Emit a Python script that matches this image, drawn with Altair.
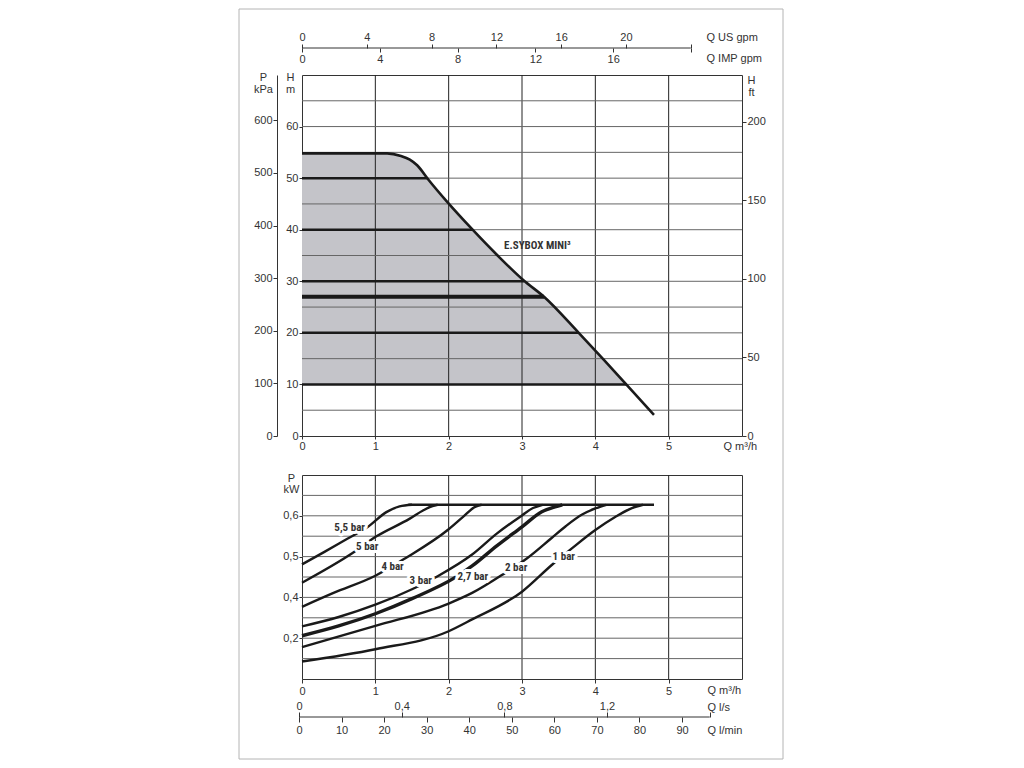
import altair as alt
import pandas as pd

# ---------------- data: top chart (head vs flow) ----------------
env_q = [0.0, 0.6, 1.16, 1.35, 1.47, 1.57, 1.73, 1.98, 2.32, 2.66, 3.02, 3.30, 3.78, 4.12, 4.44, 4.80]
env_h = [54.8, 54.8, 54.8, 54.3, 53.6, 52.5, 49.6, 45.4, 40.1, 35.1, 30.2, 27.0, 19.9, 14.7, 9.7, 4.1]
shade_end_q = 4.43
shade_base_h = 10
press_h = [10, 20, 27, 30, 40, 50]
press_q_end = [4.43, 3.77, 3.30, 3.03, 2.32, 1.72]
top_grid_q = [1, 2, 3, 4, 5]
top_grid_h = [5, 10, 15, 20, 25, 30, 35, 40, 45, 50, 55, 60, 65]
top_label = ["E.SYBOX MINI³"]
top_label_q = [3.21]
top_label_h = [36.8]

q_ticks = [0, 1, 2, 3, 4, 5]
m_ticks = [0, 10, 20, 30, 40, 50, 60]
kpa_ticks = [0, 100, 200, 300, 400, 500, 600]
ft_ticks = [0, 50, 100, 150, 200]
us_ticks = [0, 4, 8, 12, 16, 20, 24]
imp_ticks = [0, 4, 8, 12, 16, 20]
# unit relations as drawn on the sheet
kpa_per_m = 9.8
ft_per_m = 3.281
us_gpm_per_m3h = 4.527
imp_gpm_per_m3h = 3.77
gpm_scale_end = 24  # US gpm at end of the gpm scale line

# ---------------- data: bottom chart (power vs flow) ----------------
curves = {
    "5,5 bar": ([0, 0.3, 0.6, 0.9, 1.15, 1.33, 1.5],
                [0.481, 0.511, 0.542, 0.573, 0.609, 0.623, 0.627]),
    "5 bar": ([0, 0.7, 1.01, 1.47, 1.65, 1.78, 1.85],
              [0.436, 0.51, 0.549, 0.593, 0.613, 0.624, 0.627]),
    "4 bar": ([0, 0.43, 1.0, 1.41, 2.0, 2.2, 2.36, 2.45],
              [0.377, 0.411, 0.453, 0.496, 0.567, 0.598, 0.622, 0.627]),
    "3 bar": ([0, 0.5, 1.0, 1.5, 1.85, 2.32, 2.66, 3.0, 3.15, 3.28],
              [0.329, 0.352, 0.382, 0.42, 0.452, 0.505, 0.557, 0.601, 0.619, 0.627]),
    "2,7 bar": ([0, 0.5, 1.0, 1.5, 2.09, 2.32, 2.66, 3.0, 3.27, 3.45, 3.55],
                [0.306, 0.33, 0.36, 0.397, 0.449, 0.477, 0.527, 0.573, 0.61, 0.622, 0.627]),
    "2 bar": ([0, 1.0, 2.0, 2.32, 2.77, 3.07, 3.4, 3.6, 3.82, 4.0, 4.15],
              [0.278, 0.33, 0.385, 0.411, 0.46, 0.496, 0.545, 0.575, 0.603, 0.618, 0.627]),
    "1 bar": ([0, 1.0, 2.0, 2.32, 3.0, 3.41, 3.68, 4.0, 4.27, 4.5, 4.65],
              [0.243, 0.273, 0.317, 0.346, 0.414, 0.48, 0.52, 0.565, 0.597, 0.619, 0.627]),
}
plateau_q = [1.45, 4.80]
plateau_kw = [0.627, 0.627]
curve_labels = ["5,5 bar", "5 bar", "4 bar", "3 bar", "2,7 bar", "2 bar", "1 bar"]
curve_label_q = [0.65, 0.89, 1.235, 1.62, 2.33, 2.92, 3.57]
curve_label_kw = [0.571, 0.523, 0.475, 0.439, 0.45, 0.472, 0.50]
bot_grid_q = [1, 2, 3, 4, 5]
bot_grid_kw = [0.25, 0.3, 0.35, 0.4, 0.45, 0.5, 0.55, 0.6, 0.65]
kw_ticks = [0.3, 0.4, 0.5, 0.6]
kw_text = ["0,2", "0,4", "0,5", "0,6"]
ls_ticks = [0, 0.4, 0.8, 1.2, 1.6]
lmin_ticks = [0, 10, 20, 30, 40, 50, 60, 70, 80, 90]
ls_per_m3h = 0.2857
lmin_per_m3h = 17.23
ls_scale_end = 1.6
ls_scale_start_q = -0.04  # the l/s - l/min scale starts slightly left of the plot edge

# ---------------- helpers ----------------
W = 440
H_TOP = 361
H_BOT = 204
INK = "#1a1a1a"
TXT = "#333333"
LBL_FONT = "Roboto Condensed, DejaVu Sans Condensed, Liberation Sans Narrow, Arial Narrow, Liberation Sans"

ax_common = dict(labelFlush=False, labelOverlap=False, grid=False)


def TX(f, axis=None):
    return alt.X(f, type="quantitative", scale=alt.Scale(domain=[0, 6], nice=False, zero=False),
                 axis=axis)


def TY(f, axis=None):
    return alt.Y(f, type="quantitative", scale=alt.Scale(domain=[0, 70], nice=False),
                 axis=axis)


top_xa = alt.Axis(orient="bottom", values=q_ticks, domain=False, tickSize=3, labelPadding=1,
                  title="Q m³/h", titleX=421, titleY=10, titleAlign="left",
                  titleBaseline="middle", **ax_common)
top_ya = alt.Axis(orient="left", values=m_ticks, domain=False, tickSize=3, labelPadding=1,
                  title=["H", "m"], titleAngle=0, titleX=-12, titleY=2, titleAlign="center",
                  titleBaseline="middle", titleLineHeight=12, **ax_common)
kpa_axis = alt.Axis(orient="left", offset=25, values=[p / kpa_per_m for p in kpa_ticks],
                    labelExpr=f"format(datum.value * {kpa_per_m}, '.0f')",
                    domain=True, tickSize=4, labelPadding=1, title=["P", "kPa"], titleAngle=0,
                    titleX=-14, titleY=2, titleAlign="center", titleBaseline="middle",
                    titleLineHeight=12, **ax_common)
ft_axis = alt.Axis(orient="right", values=[f / ft_per_m for f in ft_ticks],
                   labelExpr=f"format(datum.value * {ft_per_m}, '.0f')",
                   domain=False, tickSize=4, labelPadding=1, title=["H", "ft"], titleAngle=0,
                   titleX=9, titleY=5, titleAlign="center", titleBaseline="middle",
                   titleLineHeight=12, **ax_common)
us_axis = alt.Axis(orient="top", offset=27, values=[g / us_gpm_per_m3h for g in us_ticks],
                   labelExpr=(f"datum.value * {us_gpm_per_m3h} > {gpm_scale_end - 1} ? '' : "
                              f"format(datum.value * {us_gpm_per_m3h}, '.0f')"),
                   domain=False, tickSize=4, labelPadding=2, title="Q US gpm", titleX=404,
                   titleY=-11, titleAlign="left", titleBaseline="middle", **ax_common)
imp_axis = alt.Axis(orient="bottom", offset=-388, values=[g / imp_gpm_per_m3h for g in imp_ticks],
                    labelExpr=(f"datum.value * {imp_gpm_per_m3h} > 19 ? '' : "
                               f"format(datum.value * {imp_gpm_per_m3h}, '.0f')"),
                    domain=False, tickSize=4, labelPadding=1, title="Q IMP gpm", titleX=404,
                    titleY=10, titleAlign="left", titleBaseline="middle", **ax_common)

env_df = pd.DataFrame({"q": env_q, "h": env_h})
area_rows = [(q, h) for q, h in zip(env_q, env_h) if h >= shade_base_h] + [(shade_end_q, shade_base_h)]
area_df = pd.DataFrame({"q": [r[0] for r in area_rows], "h": [r[1] for r in area_rows],
                        "b": [shade_base_h] * len(area_rows)})
press_df = pd.DataFrame({"q0": [0] * len(press_h), "q1": press_q_end, "h": press_h})

area = alt.Chart(area_df).mark_area(color="#c4c4c9", interpolate="monotone").encode(
    x=TX("q", top_xa), y=TY("h", top_ya), y2="b")
vgrid = alt.Chart(pd.DataFrame({"q": top_grid_q})).mark_rule(color="#222", strokeWidth=1).encode(
    x=TX("q"))
hgrid = alt.Chart(pd.DataFrame({"h": top_grid_h})).mark_rule(color="#666", strokeWidth=1).encode(
    y=TY("h"))
press = alt.Chart(press_df).mark_rule(color=INK).encode(
    x=TX("q0", us_axis), x2="q1", y=TY("h", kpa_axis),
    strokeWidth=alt.condition("datum.h == 27", alt.value(3.8), alt.value(2.5)))
env_line = alt.Chart(env_df).mark_line(color=INK, strokeWidth=2.6, interpolate="monotone").encode(
    x=TX("q", imp_axis), y=TY("h", ft_axis))
tlabel = alt.Chart(pd.DataFrame({"q": top_label_q, "h": top_label_h, "t": top_label})).mark_text(
    font=LBL_FONT, fontWeight="bold", fontSize=11, color=TXT).encode(
    x=TX("q"), y=TY("h"), text="t")
gpm_line = alt.Chart(pd.DataFrame({"q0": [0], "q1": [gpm_scale_end / us_gpm_per_m3h]})).mark_rule(
    color="#333", strokeWidth=1).encode(x=TX("q0"), x2="q1", y=alt.value(-27))

top = alt.layer(area, vgrid, hgrid, press, env_line, tlabel, gpm_line).resolve_axis(
    x="independent", y="independent").properties(width=W, height=H_TOP)

# ---------------- bottom chart ----------------


def BX(f, axis=None):
    return alt.X(f, type="quantitative", scale=alt.Scale(domain=[0, 6], nice=False, zero=False),
                 axis=axis)


def BY(f, axis=None):
    return alt.Y(f, type="quantitative", scale=alt.Scale(domain=[0.2, 0.7], nice=False, zero=False),
                 axis=axis)


kw_expr = " : ".join(f"datum.value == {v} ? '{t}'" for v, t in zip(kw_ticks, kw_text)) + " : ''"
bot_xa = alt.Axis(orient="bottom", values=q_ticks, domain=False, tickSize=4, labelPadding=2,
                  title="Q m³/h", titleX=405, titleY=11, titleAlign="left",
                  titleBaseline="middle", **ax_common)
bot_ya = alt.Axis(orient="left", values=kw_ticks, labelExpr=kw_expr,
                  domain=False, tickSize=3, labelPadding=1,
                  title=["P", "kW"], titleAngle=0, titleX=-11, titleY=3, titleAlign="center",
                  titleBaseline="middle", titleLineHeight=11, **ax_common)
ls_axis = alt.Axis(orient="top", offset=-242, position=-3,
                   values=[s / ls_per_m3h for s in ls_ticks],
                   labelExpr=(f"datum.value * {ls_per_m3h} > 1.5 ? '' : "
                              f"replace(format(datum.value * {ls_per_m3h}, '.1~f'), '.', ',')"),
                   domain=False, tickSize=5, labelPadding=1, title="Q l/s", titleX=408, titleY=-10,
                   titleAlign="left", titleBaseline="middle", **ax_common)
lmin_axis = alt.Axis(orient="bottom", offset=38, position=-3,
                     values=[m / lmin_per_m3h for m in lmin_ticks],
                     labelExpr=f"format(datum.value * {lmin_per_m3h}, '.0f')",
                     domain=False, tickSize=5, labelPadding=2, title="Q l/min", titleX=408,
                     titleY=13, titleAlign="left", titleBaseline="middle", **ax_common)

rows = []
for name, (qs, ks) in curves.items():
    for i, (q, k) in enumerate(zip(qs, ks)):
        rows.append({"curve": name, "q": q, "kw": k, "i": i})
curve_df = pd.DataFrame(rows)
lab_df = pd.DataFrame({"q": curve_label_q, "kw": curve_label_kw, "t": curve_labels})

b_vgrid = alt.Chart(pd.DataFrame({"q": bot_grid_q})).mark_rule(color="#222", strokeWidth=1).encode(
    x=BX("q", ls_axis))
b_hgrid = alt.Chart(pd.DataFrame({"kw": bot_grid_kw})).mark_rule(color="#666", strokeWidth=1).encode(
    y=BY("kw"))
b_lines = alt.Chart(curve_df).mark_line(color=INK, interpolate="monotone").encode(
    x=BX("q", bot_xa), y=BY("kw", bot_ya), detail="curve:N", order="i:Q",
    strokeWidth=alt.condition("datum.curve == '2,7 bar'", alt.value(3.4), alt.value(2.4)))
b_plateau = alt.Chart(pd.DataFrame({"q": plateau_q, "kw": plateau_kw})).mark_line(
    color=INK, strokeWidth=2.6).encode(x=BX("q", lmin_axis), y=BY("kw"))
b_halo = alt.Chart(lab_df).mark_text(font=LBL_FONT, fontWeight="bold", fontSize=11,
                                     stroke="white", strokeWidth=6, strokeJoin="round",
                                     color="white").encode(x=BX("q"), y=BY("kw"), text="t")
b_text = alt.Chart(lab_df).mark_text(font=LBL_FONT, fontWeight="bold", fontSize=11,
                                     color=TXT).encode(x=BX("q"), y=BY("kw"), text="t")
ls_line = alt.Chart(pd.DataFrame({"q0": [ls_scale_start_q],
                                  "q1": [ls_scale_start_q + ls_scale_end / ls_per_m3h]})).mark_rule(
    color="#333", strokeWidth=1).encode(x=BX("q0"), x2="q1", y=alt.value(242))
frame = alt.Chart(pd.DataFrame({"a": [0]})).mark_rect(
    fillOpacity=0, stroke="#b4b4b4", strokeWidth=1).encode(
    x=alt.value(-63), x2=alt.value(481), y=alt.value(-466), y2=alt.value(284))

bottom = alt.layer(b_vgrid, b_hgrid, b_lines, b_plateau, b_halo, b_text, ls_line, frame).resolve_axis(
    x="independent", y="independent").properties(width=W, height=H_BOT)

chart = alt.vconcat(top, bottom, spacing=39, bounds="flush").properties(
    padding={"left": 230, "top": 0, "right": 10, "bottom": 5}
).configure_view(stroke="#333", strokeWidth=1).configure_axis(
    labelFont="Liberation Sans", labelFontSize=11, labelColor=TXT,
    titleFont="Liberation Sans", titleFontSize=11, titleFontWeight="normal", titleColor=TXT,
    tickColor="#333", domainColor="#333", tickWidth=1, domainWidth=1
)

chart.save("out.html", embed_options={"renderer": "svg", "actions": False})
